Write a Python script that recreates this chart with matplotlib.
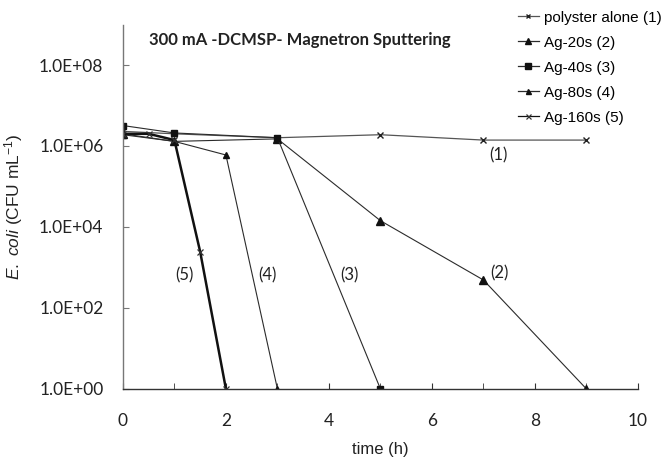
import math
import matplotlib
matplotlib.use("Agg")
import matplotlib.pyplot as plt
from matplotlib.ticker import FixedLocator, FuncFormatter, MultipleLocator

plt.rcParams["mathtext.fontset"] = "custom"
plt.rcParams["mathtext.rm"] = "Liberation Sans"
plt.rcParams["mathtext.it"] = "Liberation Sans:italic"

# ---- data ----
labels = ["polyster alone (1)", "Ag-20s (2)", "Ag-40s (3)", "Ag-80s (4)", "Ag-160s (5)"]
t1 = [0, 1, 3, 5, 7, 9]
v1 = [2.3e6, 2.0e6, 1.6e6, 1.9e6, 1.4e6, 1.4e6]
t2 = [0, 1, 3, 5, 7, 9]
v2 = [2.0e6, 1.3e6, 1.5e6, 1.43e4, 490, 1]
t3 = [0, 1, 3, 5]
v3 = [3.2e6, 2.1e6, 1.6e6, 1]
t4 = [0, 1, 2, 3]
v4 = [1.9e6, 1.3e6, 6.0e5, 1]
t5 = [0, 0.5, 1, 1.5, 2]
v5 = [2.0e6, 2.0e6, 1.4e6, 2.45e3, 1]
ann_text = ["(1)", "(2)", "(3)", "(4)", "(5)"]
ann_x = [7.3, 7.32, 4.39, 2.8, 1.2]
ann_y = [6.0e5, 700, 620, 620, 620]
yticks = [1e0, 1e2, 1e4, 1e6, 1e8]

fig = plt.figure(figsize=(6.68, 4.63), dpi=100)
ax = fig.add_axes([0.184, 0.160, 0.771, 0.787])

c = "#2b2b2b"
ax.plot(t1, v1, color="#555555", lw=0.9, marker="x", ms=4, mew=1.0, mec="#222222", label=labels[0])
ax.plot(t2, v2, color=c, lw=0.8, marker="^", ms=5.5, mfc="#111111", mec="#111111", label=labels[1])
ax.plot(t3, v3, color=c, lw=0.8, marker="s", ms=5, mfc="#111111", mec="#111111", label=labels[2])
ax.plot(t4, v4, color=c, lw=0.8, marker="^", ms=4.5, mfc="#111111", mec="#111111", label=labels[3])
ax.plot(t5, v5, color="#111111", lw=1.8, marker="x", ms=4.5, mew=0.9, mec="#333333", label=labels[4])

for s, x, y in zip(ann_text, ann_x, ann_y):
    ax.text(x, y, s, fontsize=12, family="Lato", ha="center", va="center", color="#222222")

ax.set_yscale("log")
ax.set_ylim(1, 1e9)
ax.set_xlim(0, 10)
ax.yaxis.set_major_locator(FixedLocator(yticks))
ax.yaxis.set_minor_locator(FixedLocator([]))
ax.yaxis.set_major_formatter(FuncFormatter(lambda v, p: "1.0E+%02d" % round(math.log10(v))))
ax.xaxis.set_major_locator(MultipleLocator(2))
ax.xaxis.set_minor_locator(MultipleLocator(1))

for sp in ["top", "right"]:
    ax.spines[sp].set_visible(False)
ax.spines["left"].set_color("#777777")
ax.spines["bottom"].set_color("#333333")
ax.spines["left"].set_linewidth(1.0)
ax.spines["bottom"].set_linewidth(1.0)

ax.tick_params(axis="x", which="both", direction="in", length=4, color="#333333", pad=17)
ax.tick_params(axis="y", which="major", direction="in", length=4, color="#777777", pad=14)
for lab in ax.get_xticklabels() + ax.get_yticklabels():
    lab.set_family("Lato")
    lab.set_fontsize(12.5)
    lab.set_color("#222222")

ax.set_xlabel("time (h)", fontsize=12, family="Liberation Sans", labelpad=10, color="#222222")
ax.set_ylabel(r"$\it{E.\ coli}$ (CFU mL$^{-1}$)", fontsize=12.5, family="Liberation Sans", labelpad=10, color="#222222")

ax.text(0.05, 0.957, "300 mA -DCMSP- Magnetron Sputtering", transform=ax.transAxes,
        fontsize=12, fontweight="bold", family="Lato", ha="left", va="center", color="#222222")

leg = fig.legend(loc="upper left", bbox_to_anchor=(0.775, 0.977), frameon=False,
                 prop={"family": "Liberation Sans", "size": 11}, handlelength=1.4,
                 handletextpad=0.35, labelspacing=0.72, borderpad=0, borderaxespad=0,
                 markerscale=0.8)
for h in leg.legend_handles:
    h.set_linewidth(0.9)

fig.savefig("out.png", dpi=100)
